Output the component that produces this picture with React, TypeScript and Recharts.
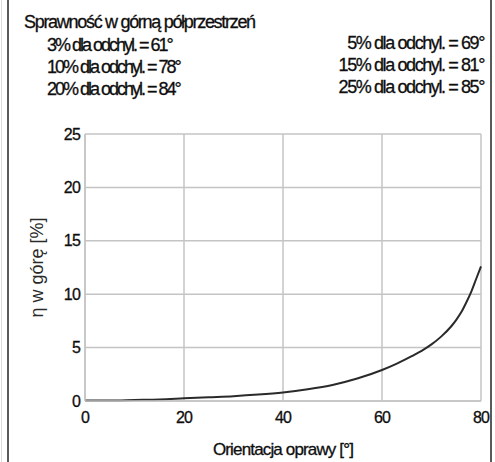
import { LineChart, Line, XAxis, YAxis, CartesianGrid } from "recharts";

// orientation of the luminaire [deg] and upward efficiency [%]
const angles = [0, 5, 10, 15, 20, 25, 30, 35, 40, 45, 50, 55, 60, 63, 66, 68, 70, 72, 74, 75, 76, 77, 78, 79, 80];
const etaUp = [0.05, 0.05, 0.1, 0.15, 0.25, 0.35, 0.45, 0.6, 0.8, 1.1, 1.5, 2.1, 2.9, 3.5, 4.2, 4.7, 5.3, 6.05, 7.0, 7.6, 8.3, 9.2, 10.2, 11.4, 12.6];

const xTicks = [0, 20, 40, 60, 80];
const yTicks = [0, 5, 10, 15, 20, 25];

const title = "Sprawność w górną półprzestrzeń";
const notesLeft = ["3% dla odchyl. = 61°", "10% dla odchyl. = 78°", "20% dla odchyl. = 84°"];
const notesRight = ["5% dla odchyl. = 69°", "15% dla odchyl. = 81°", "25% dla odchyl. = 85°"];

const data = angles.map((a, i) => ({ angle: a, eta: etaUp[i] }));

const font = "'Liberation Sans', Arial, sans-serif";
const ink = "#0e0e0e";
const grid = "#c4c4c4";

export default function App() {
  return (
    <div
      style={{
        position: "absolute",
        left: 0,
        top: 0,
        width: 495,
        height: 462,
        background: "#fff",
        fontFamily: font,
        overflow: "hidden",
      }}
    >
      <div style={{ position: "absolute", left: 1, top: 0, width: 1, height: 462, background: "#dcdcdc" }} />
      <div style={{ position: "absolute", left: 7, top: 0, width: 2, height: 462, background: "#5a5a5a" }} />
      <div style={{ position: "absolute", left: 490, top: 0, width: 2, height: 462, background: "#5a5a5a" }} />

      <svg width={495} height={110} style={{ position: "absolute", left: 0, top: 0 }}>
        <g fill={ink} stroke={ink} strokeWidth={0.3} fontFamily={font} fontSize={18}>
          <text x={24} y={28} letterSpacing={-1.3}>
            {title}
          </text>
          {notesLeft.map((t, i) => (
            <text key={t} x={47} y={50.5 + i * 22.3} letterSpacing={-2}>
              {t}
            </text>
          ))}
          {notesRight.map((t, i) => (
            <text key={t} x={484} y={48.5 + i * 22} letterSpacing={-1.4} textAnchor="end">
              {t}
            </text>
          ))}
        </g>
      </svg>

      <div style={{ position: "absolute", left: 0, top: 0 }}>
        <LineChart width={495} height={462} data={data} margin={{ top: 134, right: 14, bottom: 1, left: 0 }}>
          <CartesianGrid stroke={grid} strokeWidth={1.5} />
          <XAxis
            dataKey="angle"
            type="number"
            domain={[0, 80]}
            ticks={xTicks}
            height={60}
            tickLine={false}
            tickSize={6}
            tickMargin={5}
            axisLine={{ stroke: grid, strokeWidth: 1.5 }}
            tick={{ fill: ink, stroke: ink, strokeWidth: 0.3, fontSize: 16, fontFamily: font, letterSpacing: -0.8 }}
            label={{
              value: "Orientacja oprawy [°]",
              position: "insideBottom",
              offset: 6,
              fill: ink,
              stroke: ink,
              strokeWidth: 0.3,
              fontSize: 17,
              fontFamily: font,
              letterSpacing: -0.85,
            }}
          />
          <YAxis
            type="number"
            domain={[0, 25]}
            ticks={yTicks}
            width={85}
            tickLine={false}
            tickSize={3}
            tickMargin={2}
            axisLine={{ stroke: grid, strokeWidth: 1.5 }}
            tick={{ fill: ink, stroke: ink, strokeWidth: 0.3, fontSize: 16, fontFamily: font, letterSpacing: -0.8 }}
            label={{
              value: "η w górę [%]",
              angle: -90,
              position: "center",
              dx: -6,
              fill: "#2a2a2a",
              fontSize: 18,
              fontFamily: font,
            }}
          />
          <Line
            type="monotone"
            dataKey="eta"
            stroke="#2a2a2a"
            strokeWidth={2}
            dot={false}
            activeDot={false}
            isAnimationActive={false}
          />
        </LineChart>
      </div>
    </div>
  );
}
